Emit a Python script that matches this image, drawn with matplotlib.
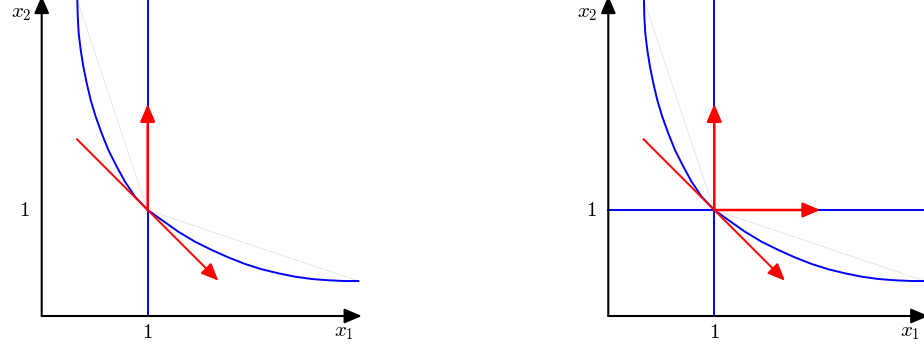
import matplotlib.pyplot as plt

plt.rcParams['mathtext.fontset'] = 'cm'

# isoquant (x1, x2)
curve_x1 = [0.336, 0.340, 0.349, 0.368, 0.393, 0.425, 0.462, 0.509, 0.566,
            0.629, 0.708, 0.786, 0.880, 1.0,
            1.132, 1.289, 1.446, 1.604, 1.760, 1.918, 2.075, 2.232, 2.390,
            2.547, 2.704, 2.862, 2.987]
curve_x2 = [2.981, 2.824, 2.667, 2.509, 2.352, 2.195, 2.038, 1.881, 1.723,
            1.566, 1.409, 1.267, 1.126, 1.0,
            0.906, 0.795, 0.701, 0.623, 0.553, 0.491, 0.441, 0.403, 0.371,
            0.349, 0.337, 0.330, 0.330]

# corner point and gray chords
corner = (1.0, 1.0)
chord_ends = [(0.336, 2.981), (2.987, 0.330)]

# red tangent line / arrows
tangent_start = (1/3, 5/3)
tangent_tip = (5/3, 1/3)
up_tip = (1.0, 2.0)
right_tip = (2.0, 1.0)

axis_max = 3.0

W, H = 924, 354
fig = plt.figure(figsize=(W / 100, H / 100), dpi=100)

scale = 106.0
origin_y = 316.0


def make_ax(px_left, px_right, origin_x):
    ax = fig.add_axes([px_left / W, 0, (px_right - px_left) / W, 1])
    ax.set_xlim((px_left - origin_x) / scale, (px_right - origin_x) / scale)
    ax.set_ylim((origin_y - H) / scale, origin_y / scale)
    ax.axis('off')
    return ax


def arrow(ax, start, tip, color, lw, z):
    ax.annotate('', xy=tip, xytext=start, annotation_clip=False,
                arrowprops=dict(arrowstyle='-|>,head_length=0.75,head_width=0.32',
                                color=color, lw=lw, mutation_scale=14,
                                shrinkA=0, shrinkB=0), zorder=z)


def draw_panel(ax, with_horizontal):
    # coordinate axes
    arrow(ax, (0, 0), (axis_max + 0.02, 0), 'black', 1.5, 5)
    arrow(ax, (0, 0), (0, axis_max + 0.02), 'black', 1.5, 5)

    # blue lines
    ax.plot([corner[0], corner[0]], [0, 3.5], color='blue', lw=1.4, zorder=2)
    if with_horizontal:
        ax.plot([0, 3.5], [corner[1], corner[1]], color='blue', lw=1.4, zorder=2)
    ax.plot(curve_x1, curve_x2, color='blue', lw=1.4, zorder=2)

    # gray chords
    for e in chord_ends:
        ax.plot([corner[0], e[0]], [corner[1], e[1]], color='#d8d8d8', lw=0.4, zorder=1)

    # red
    ax.plot([tangent_start[0], corner[0]], [tangent_start[1], corner[1]],
            color='red', lw=1.4, zorder=3)
    arrow(ax, corner, tangent_tip, 'red', 1.4, 4)
    arrow(ax, corner, up_tip, 'red', 1.8, 4)
    if with_horizontal:
        arrow(ax, corner, right_tip, 'red', 1.8, 4)

    # labels
    ax.text(-0.1, 2.86, '$x_2$', fontsize=15, ha='right', va='center')
    ax.text(2.85, -0.15, '$x_1$', fontsize=15, ha='center', va='center')
    ax.text(1.0, -0.15, '$1$', fontsize=15, ha='center', va='center')
    ax.text(-0.16, 1.0, '$1$', fontsize=15, ha='center', va='center')


ax1 = make_ax(0, 400, 41.7)
draw_panel(ax1, False)

ax2 = make_ax(560, 924, 608.3)
draw_panel(ax2, True)

fig.savefig('out.png', dpi=100)
